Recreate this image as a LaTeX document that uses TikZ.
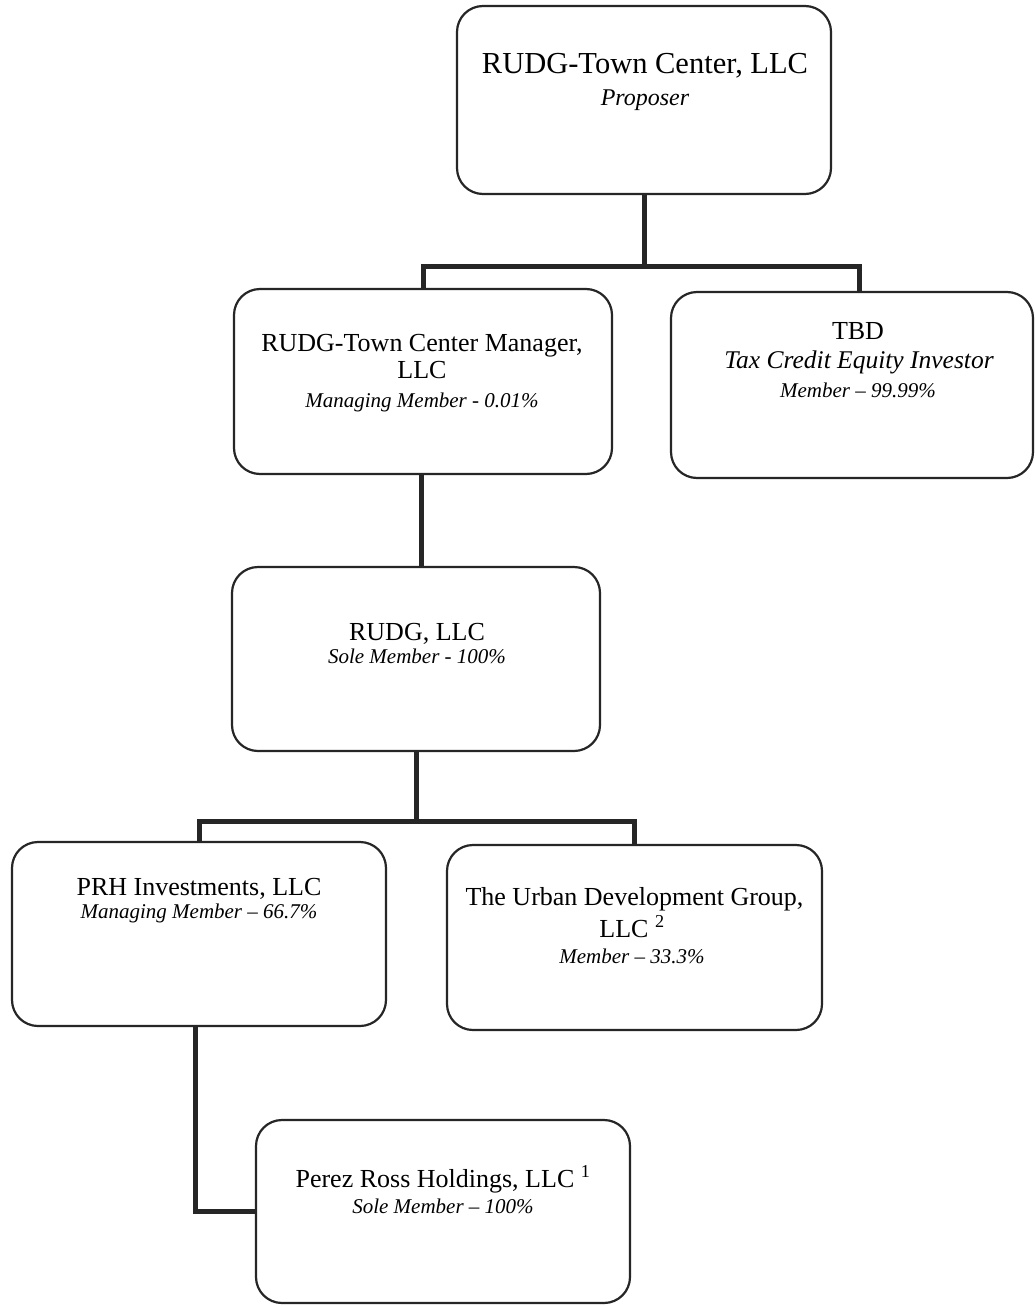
\documentclass[tikz,border=0pt]{standalone}
\usepackage{fontspec}
\setmainfont{Liberation Serif}
\begin{document}
\begin{tikzpicture}[x=1pt,y=-1pt,
  box/.style={draw=black!85, line width=2.2pt, rounded corners=26pt, inner sep=0pt},
  conn/.style={draw=black!85, line width=5pt},
  toptxt/.style={anchor=base, inner sep=0pt, font=\fontsize{30.5}{36}\selectfont},
  topitx/.style={anchor=base, inner sep=0pt, font=\fontsize{24}{28}\selectfont\itshape},
  maintxt/.style={anchor=base, inner sep=0pt, font=\fontsize{26}{30}\selectfont},
  bigitx/.style={anchor=base, inner sep=0pt, font=\fontsize{25.5}{30}\selectfont\itshape},
  roletxt/.style={anchor=base, inner sep=0pt, font=\fontsize{21}{25}\selectfont\itshape}]
\path[use as bounding box, fill=white] (0,0) rectangle (1035,1306);

% boxes
\node[box, minimum width=374pt, minimum height=188pt] (A) at (644,100) {};
\node[box, minimum width=378pt, minimum height=185pt] (B) at (423,381.5) {};
\node[box, minimum width=362pt, minimum height=186pt] (C) at (852,385) {};
\node[box, minimum width=368pt, minimum height=184pt] (D) at (416,659) {};
\node[box, minimum width=374pt, minimum height=184pt] (E) at (199,934) {};
\node[box, minimum width=375pt, minimum height=185pt] (F) at (634.5,937.5) {};
\node[box, minimum width=374pt, minimum height=183pt] (G) at (443,1211.5) {};

% texts
\node[toptxt] (A1) at (645,74) {RUDG-Town Center, LLC};
\node[topitx] (A2) at (645,105) {Proposer};

\node[maintxt] (B1) at (422,351) {RUDG-Town Center Manager,};
\node[maintxt] (B2) at (422,378) {LLC};
\node[roletxt] (B3) at (422,407) {Managing Member - 0.01\%};

\node[maintxt] (C1) at (858,339) {TBD};
\node[bigitx] (C2) at (859,368) {Tax Credit Equity Investor};
\node[roletxt] (C3) at (858,397) {Member -- 99.99\%};

\node[maintxt] (D1) at (417,640) {RUDG, LLC};
\node[roletxt] (D2) at (417,663) {Sole Member - 100\%};

\node[maintxt] (E1) at (199,895) {PRH Investments, LLC};
\node[roletxt] (E2) at (199,918) {Managing Member -- 66.7\%};

\node[maintxt] (F1) at (634.5,905) {The Urban Development Group,};
\node[maintxt] (F2) at (632,937) {LLC \textsuperscript{2}};
\node[roletxt] (F3) at (632,963) {Member -- 33.3\%};

\node[maintxt] (G1) at (443,1187) {Perez Ross Holdings, LLC \textsuperscript{1}};
\node[roletxt] (G2) at (443,1213) {Sole Member -- 100\%};

% connectors
\coordinate (j1) at (644,266);
\coordinate (j2) at (417,821);
\draw[conn] (A.south) -- (j1);
\draw[conn] (B.north) |- (j1) -| ([xshift=7pt]C.north);
\draw[conn] ([xshift=-2pt]B.south) -- ([xshift=-2pt]B.south |- D.north);
\draw[conn] (D.south) -- (D.south |- j2);
\draw[conn] (E.north) |- (j2) -| (F.north);
\draw[conn] ([xshift=-4pt]E.south) |- (G.west);
\end{tikzpicture}
\end{document}
